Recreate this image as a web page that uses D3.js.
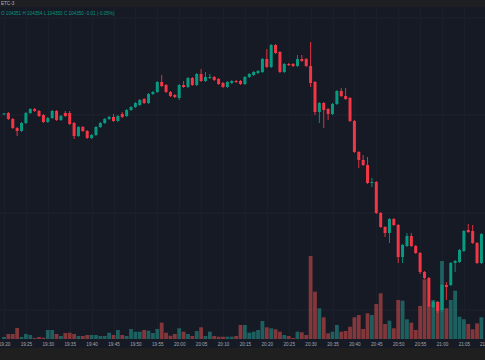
<!DOCTYPE html>
<html><head><meta charset="utf-8">
<script src="https://cdn.jsdelivr.net/npm/d3@7"></script>
<style>html,body{margin:0;padding:0;background:#161a25;overflow:hidden}svg{display:block}</style>
</head><body><svg id="c" width="485" height="360"></svg>
<script>
const times = ["19:20","19:21","19:22","19:23","19:24","19:25","19:26","19:27","19:28","19:29",
"19:30","19:31","19:32","19:33","19:34","19:35","19:36","19:37","19:38","19:39",
"19:40","19:41","19:42","19:43","19:44","19:45","19:46","19:47","19:48","19:49",
"19:50","19:51","19:52","19:53","19:54","19:55","19:56","19:57","19:58","19:59",
"20:00","20:01","20:02","20:03","20:04","20:05","20:06","20:07","20:08","20:09",
"20:10","20:11","20:12","20:13","20:14","20:15","20:16","20:17","20:18","20:19",
"20:20","20:21","20:22","20:23","20:24","20:25","20:26","20:27","20:28","20:29",
"20:30","20:31","20:32","20:33","20:34","20:35","20:36","20:37","20:38","20:39",
"20:40","20:41","20:42","20:43","20:44","20:45","20:46","20:47","20:48","20:49",
"20:50","20:51","20:52","20:53","20:54","20:55","20:56","20:57","20:58","20:59",
"21:00","21:01","21:02","21:03","21:04","21:05","21:06","21:07","21:08","21:09"];
const open  = [285.5,287,281,272,269,277,287,291,289,285,278,282,289,280,287,287,277,264,273,269,
262,265,273,277,281,283,279,286,284,290,293,295,301,297,306,308,318,315,308,305,
302,315,313,322,315,326,319,322,323,321,317,313,317,319,319,316,323,325,327,328,
341,333,355,348,328,336,336,334,341,341,334,318,288,297,291,286,296,309,304,302,
279,248,240,235,217,218,187,173,167,181,175,143,154,164,154,147,128,122,93,98,
90,115,115,137,138,149,170,169,157,137];
const high  = [287,288,282,273,278,288,292,292,290,286,283,290,290,285,289,289,278,274,274,270,
266,274,278,282,284,286,285,288,291,294,298,301,302,307,309,319,325,316,309,306,
316,319,323,323,327,331,328,326,324,322,318,319,320,320,320,324,327,329,330,342,
351,356,356,349,337,337,337,345,345,342,358,319,298,298,292,297,310,312,312,303,
280,249,245,243,222,219,188,174,182,182,176,156,167,167,155,148,129,123,99,99,
116,118,138,140,151,170,176,175,158,167];
const low   = [285,280,271,264,268,276,286,288,283,277,277,281,279,279,283,275,261,263,268,261,
261,264,272,276,280,278,278,282,283,289,292,294,296,296,305,307,313,307,303,302,
300,312,312,314,314,318,318,321,319,315,312,312,316,317,315,315,322,324,326,327,
332,332,346,327,327,334,333,333,338,333,313,285,277,272,280,285,295,303,300,278,
247,232,234,216,213,186,172,163,157,174,137,137,153,153,146,126,121,93,92,87,
88,100,114,128,137,148,167,156,136,136];
const close = [286.5,281,272,269,277,287,291,289,284,278,282,289,280,284,284,276,264,273,269,262,
265,273,277,281,283,279,284,283,290,293,297,300,297,306,308,318,314,308,304,303,
315,313,322,315,326,319,323,323,320,316,313,318,319,318,316,323,326,328,329,341,
333,355,347,328,336,335,334,341,339,334,317,288,297,290,286,296,309,304,301,279,
248,240,235,217,218,187,173,167,181,175,143,155,164,154,147,128,122,94,98,89,
115,113,137,139,150,169,168,157,137,166];
const volume = [20,50,50,110,20,50,40,10,20,13,90,90,50,30,60,63,50,30,30,40,
40,40,30,30,63,40,90,40,30,100,73,73,90,83,60,100,163,63,33,50,
107,73,50,30,80,117,30,73,30,23,23,23,23,30,140,140,63,73,90,180,
117,107,97,73,40,30,10,73,67,40,830,473,307,217,57,73,140,73,80,123,
217,240,100,257,240,350,457,150,183,107,390,383,197,163,90,330,597,340,390,373,
780,307,390,483,223,197,150,97,157,217];
const tickLabels = ["19:20","19:25","19:30","19:35","19:40","19:45","19:50","19:55","20:00","20:05","20:10",
"20:15","20:20","20:25","20:30","20:35","20:40","20:45","20:50","20:55","21:00","21:05","21:10"];
const legendTitle = "ETC-3";
const legendValues = "O 104351 H 104354 L 104350 C 104350 -0.01 (-0.05%)";

const W = 485, H = 360, plotBottom = 339;
const svg = d3.select("#c");
const upColor = "#089981", downColor = "#f23645";
const upVol = "rgba(38,166,154,0.5)", downVol = "rgba(239,83,80,0.5)";

svg.append("rect").attr("width", W).attr("height", H).attr("fill", "#161a25");
svg.append("rect").attr("width", W).attr("height", 7).attr("fill", "#1e1f22");
svg.append("rect").attr("y", 348).attr("width", W).attr("height", 12).attr("fill", "#1f1f1f");

const x = d3.scalePoint().domain(times).range([4, 4 + 4.38 * (times.length - 1)]);
const y = d3.scaleLinear().domain([61, 400]).range([plotBottom, 0]);
const yv = d3.scaleLinear().domain([0, 1000]).range([plotBottom, plotBottom - 100]);

// grid
const grid = svg.append("g");
grid.selectAll("line.h").data([310, 213, 115, 18].map(v => y.invert(v))).join("line")
  .attr("x1", 0).attr("x2", W).attr("y1", d => y(d)).attr("y2", d => y(d))
  .attr("stroke", "#1f2330").attr("stroke-width", 1);
grid.selectAll("line.v").data(tickLabels.filter(t => times.includes(t))).join("line")
  .attr("x1", d => Math.round(x(d)) + 0.5).attr("x2", d => Math.round(x(d)) + 0.5)
  .attr("y1", 7).attr("y2", plotBottom).attr("stroke", "#1b1f2b").attr("stroke-width", 1);

const data = times.map((t, i) => ({t, o: open[i], h: high[i], l: low[i], c: close[i], v: volume[i]}));

// volume
svg.append("g").selectAll("rect").data(data).join("rect")
  .attr("x", d => x(d.t) - 1.9).attr("width", 3.8)
  .attr("y", d => yv(d.v)).attr("height", d => plotBottom - yv(d.v))
  .attr("fill", d => d.c >= d.o ? upVol : downVol);

// candles
const cg = svg.append("g").selectAll("g").data(data).join("g");
cg.append("line")
  .attr("x1", d => x(d.t)).attr("x2", d => x(d.t))
  .attr("y1", d => y(d.h)).attr("y2", d => y(d.l))
  .attr("stroke", d => d.c >= d.o ? upColor : downColor).attr("stroke-width", 0.9);
cg.append("rect")
  .attr("x", d => x(d.t) - 1.5).attr("width", 3)
  .attr("y", d => y(Math.max(d.o, d.c)))
  .attr("height", d => Math.max(1, Math.abs(y(d.o) - y(d.c))))
  .attr("fill", d => d.c >= d.o ? upColor : downColor);

// time axis
const ax = svg.append("g").attr("transform", `translate(0,${plotBottom})`)
  .call(d3.axisBottom(x).tickValues(tickLabels.filter(t => times.includes(t))).tickSize(0).tickPadding(4));
ax.select(".domain").remove();
ax.selectAll("text").attr("fill", "#a3a6af").attr("font-family", "Liberation Sans, Arial, sans-serif").attr("font-size", "4.6px");
// last partial label
svg.append("text").attr("x", 4 + 4.38 * 110).attr("y", 345.5).attr("text-anchor", "middle")
  .attr("fill", "#a3a6af").attr("font-family", "Liberation Sans, Arial, sans-serif").attr("font-size", "4.6px")
  .text(tickLabels[tickLabels.length - 1]);

// legend
svg.append("text").attr("x", 1).attr("y", 5).attr("fill", "#b2b5be")
  .attr("font-family", "Liberation Sans, Arial, sans-serif").attr("font-size", "4.6px").text(legendTitle);
svg.append("text").attr("x", 1).attr("y", 15).attr("fill", "#089981")
  .attr("font-family", "Liberation Sans, Arial, sans-serif").attr("font-size", "4.6px").text(legendValues);
</script></body></html>
